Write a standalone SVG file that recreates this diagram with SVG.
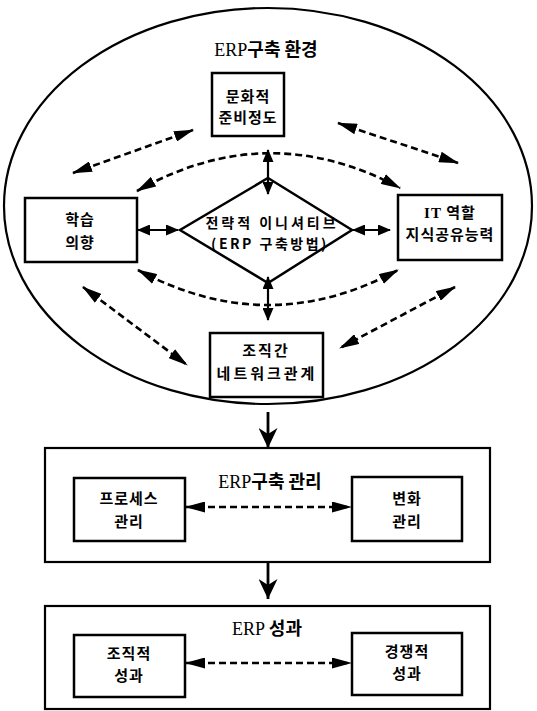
<svg xmlns="http://www.w3.org/2000/svg" width="537" height="711" viewBox="0 0 537 711">
<defs>
<marker id="ah" markerUnits="userSpaceOnUse" markerWidth="20" markerHeight="11" refX="19" refY="5.5" orient="auto-start-reverse" viewBox="0 0 20 11">
<path d="M0,0 L20,5.5 L0,11 Z" fill="#000"/>
</marker>
<marker id="ahs" markerUnits="userSpaceOnUse" markerWidth="13" markerHeight="11" refX="12" refY="5.5" orient="auto-start-reverse" viewBox="0 0 13 11">
<path d="M0,0 L13,5.5 L0,11 Z" fill="#000"/>
</marker>
<marker id="ahb" markerUnits="userSpaceOnUse" markerWidth="20" markerHeight="19" refX="20" refY="9.5" orient="auto" viewBox="0 0 20 19">
<path d="M0,0 L20,9.5 L0,19 L6,9.5 Z" fill="#000"/>
</marker>
</defs>
<style>
.box{fill:#fff;stroke:#000;stroke-width:2.5}
.outer{fill:none;stroke:#000;stroke-width:2.2}
.t{font-family:"Noto Sans CJK KR","Liberation Sans",sans-serif;font-weight:bold;font-size:15px;letter-spacing:1px;text-anchor:middle;fill:#000}
.title{font-family:"Liberation Serif","Noto Sans CJK KR",serif;font-size:18px;text-anchor:middle;fill:#000}
.ko{font-family:"Noto Sans CJK KR",sans-serif;font-weight:bold}
.dash{fill:none;stroke:#000;stroke-width:2.6;stroke-dasharray:7 4;marker-start:url(#ah);marker-end:url(#ah)}
.solid{fill:none;stroke:#000;stroke-width:2.2;marker-start:url(#ahs);marker-end:url(#ahs)}
.down{fill:none;stroke:#000;stroke-width:2.8;marker-end:url(#ahb)}
</style>

<g id="env">
<ellipse class="outer" cx="268" cy="206" rx="264" ry="198"/>
<text class="title" x="266" y="56">ERP<tspan class="ko">구축 환경</tspan></text>
</g>

<g id="culture">
<rect class="box" x="212" y="73" width="72" height="63"/>
<text class="t" x="248" y="102">문화적</text>
<text class="t" x="248" y="123">준비정도</text>
</g>

<g id="learning">
<rect class="box" x="25" y="198" width="112" height="64"/>
<text class="t" x="80" y="225">학습</text>
<text class="t" x="80" y="248">의향</text>
</g>

<g id="it">
<rect class="box" x="398" y="195" width="104" height="65"/>
<text class="t" x="450" y="218"><tspan font-family="Liberation Serif" font-weight="bold">IT</tspan> 역할</text>
<text class="t" x="450" y="240">지식공유능력</text>
</g>

<g id="strategy">
<path d="M268,178 L352,230 L268,283 L180,230 Z" fill="#fff" stroke="#000" stroke-width="2.5"/>
<text class="t" x="272" y="228" style="font-size:14px;letter-spacing:3px">전략적 이니셔티브</text>
<text class="t" x="270" y="249" style="font-size:14px;letter-spacing:2.5px">(ERP 구축방법)</text>
</g>

<g id="network">
<rect class="box" x="210" y="333" width="113" height="64"/>
<text class="t" x="266" y="356" style="letter-spacing:2px">조직간</text>
<text class="t" x="267" y="379" style="letter-spacing:3px">네트워크관계</text>
</g>

<g id="mgmt">
<rect class="outer" x="45" y="448" width="445" height="114" stroke-width="2.5"/>
<text class="title" x="270" y="488">ERP<tspan class="ko">구축 관리</tspan></text>
</g>
<g id="process">
<rect class="box" x="74" y="478" width="111" height="63"/>
<text class="t" x="129" y="504">프로세스</text>
<text class="t" x="129" y="527">관리</text>
</g>
<g id="change">
<rect class="box" x="352" y="477" width="110" height="64"/>
<text class="t" x="407" y="504">변화</text>
<text class="t" x="407" y="527">관리</text>
</g>

<g id="perf">
<rect class="outer" x="45" y="606" width="445" height="103" stroke-width="2.5"/>
<text class="title" x="267" y="635">ERP <tspan class="ko">성과</tspan></text>
</g>
<g id="org">
<rect class="box" x="74" y="635" width="111" height="62"/>
<text class="t" x="129" y="659">조직적</text>
<text class="t" x="129" y="681">성과</text>
</g>
<g id="comp">
<rect class="box" x="352" y="633" width="110" height="62"/>
<text class="t" x="407" y="657">경쟁적</text>
<text class="t" x="407" y="679">성과</text>
</g>

<g id="connectors">
<path class="dash" d="M193,130 L73,173"/>
<path class="dash" d="M338,123 L458,163"/>
<path class="dash" d="M137,191 Q268,117 400,188"/>
<path class="dash" d="M138,270 Q268,340 398,270"/>
<path class="dash" d="M83,287 L187,365"/>
<path class="dash" d="M455,287 L340,348"/>
<path class="solid" d="M268,150 L268,194"/>
<path class="solid" d="M268,277 L268,320"/>
<path class="solid" d="M138,230 L178,230"/>
<path class="solid" d="M353,230 L390,230"/>
<path class="down" d="M268,412 L268,448"/>
<path class="down" d="M268,563 L268,599"/>
<path class="dash" d="M186,507 L351,507"/>
<path class="dash" d="M186,663 L351,663"/>
</g>
</svg>
